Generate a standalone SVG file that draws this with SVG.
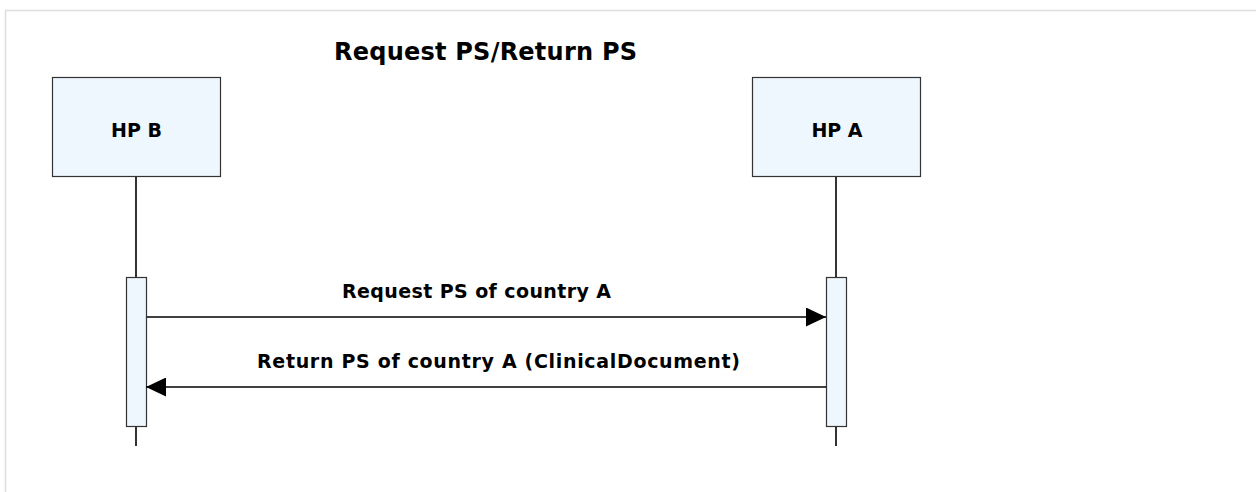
<svg xmlns="http://www.w3.org/2000/svg" width="1256" height="492" viewBox="0 0 1256 492">
  <style>
    .box { fill: #eef6fe; stroke: #333333; stroke-width: 1.2; }
    .life { stroke: #000000; stroke-width: 1.6; fill: none; }
    .msg { stroke: #000000; stroke-width: 1.6; fill: none; }
    .t { font-family: "DejaVu Sans", Verdana, sans-serif; font-weight: bold; fill: #000000; }
    .frame { stroke: #dddddd; stroke-width: 1.5; fill: none; }
  </style>
  <defs>
    <marker id="ah" viewBox="0 0 20 19" refX="20" refY="9.5" markerWidth="20" markerHeight="19" markerUnits="userSpaceOnUse" orient="auto">
      <path d="M0,0 L20,9.5 L0,19 Z" fill="#000000"/>
    </marker>
  </defs>
  <rect x="0" y="0" width="1256" height="492" fill="#ffffff"/>
  <path class="frame" d="M5.5,492 L5.5,10.5 L1256,10.5"/>
  <text class="t" x="334" y="60" font-size="24" textLength="303" lengthAdjust="spacing">Request PS/Return PS</text>

  <g id="hpb">
    <rect class="box" x="52.5" y="77.5" width="168" height="99"/>
    <text class="t" x="136.5" y="137" font-size="19" text-anchor="middle">HP B</text>
    <line class="life" x1="136" y1="177" x2="136" y2="446"/>
    <rect class="box" x="126.5" y="277.5" width="20" height="149"/>
  </g>

  <g id="hpa">
    <rect class="box" x="752.5" y="77.5" width="168" height="99"/>
    <text class="t" x="837" y="137" font-size="19" text-anchor="middle">HP A</text>
    <line class="life" x1="836" y1="177" x2="836" y2="446"/>
    <rect class="box" x="826.5" y="277.5" width="20" height="149"/>
  </g>

  <g id="connectors">
    <line class="msg" x1="147" y1="317" x2="826" y2="317" marker-end="url(#ah)"/>
    <text class="t" x="342" y="298" font-size="19" textLength="269" lengthAdjust="spacing">Request PS of country A</text>
    <line class="msg" x1="826" y1="387" x2="146" y2="387" marker-end="url(#ah)"/>
    <text class="t" x="257" y="368" font-size="19" textLength="483" lengthAdjust="spacing">Return PS of country A (ClinicalDocument)</text>
  </g>
</svg>
